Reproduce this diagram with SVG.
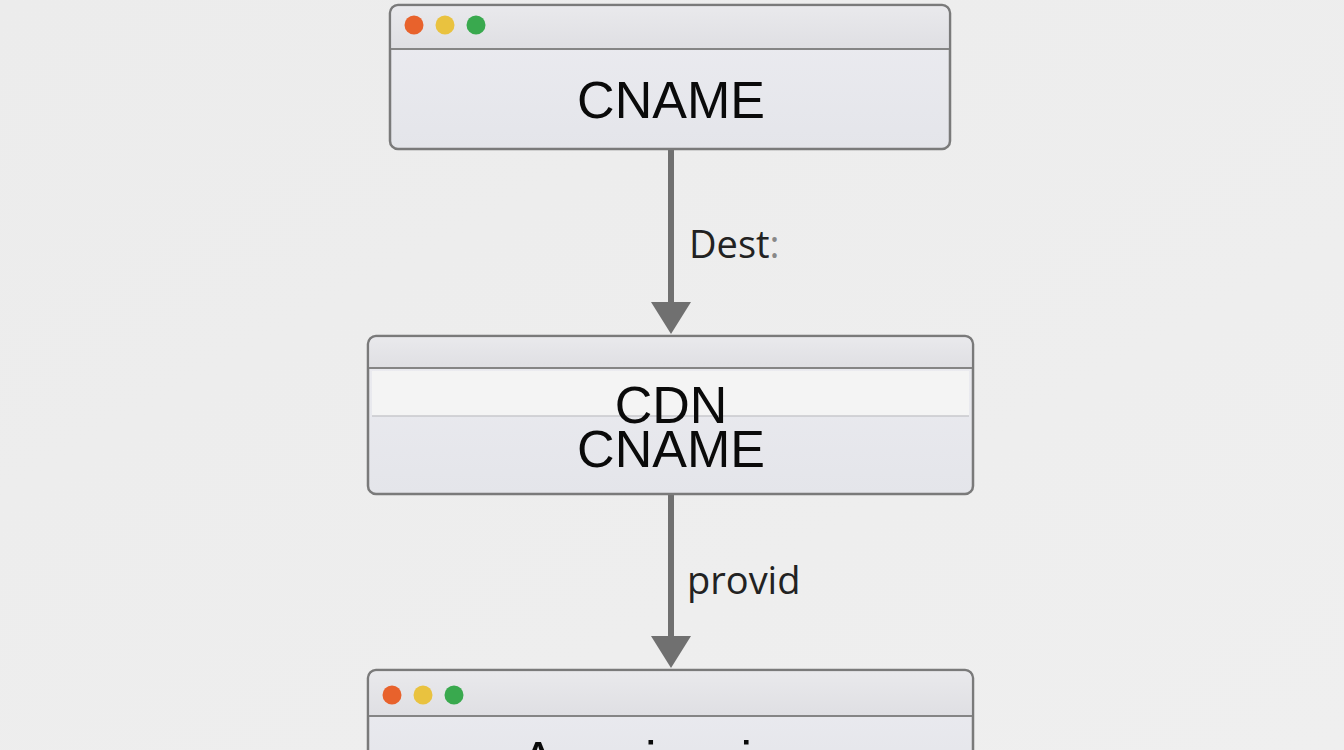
<svg xmlns="http://www.w3.org/2000/svg" width="1344" height="750" viewBox="0 0 1344 750">
<defs>
<linearGradient id="bg" x1="0" y1="0" x2="1" y2="1">
<stop offset="0" stop-color="#ececec"/>
<stop offset="1" stop-color="#efefef"/>
</linearGradient>
<linearGradient id="bar" x1="0" y1="0" x2="0" y2="1">
<stop offset="0" stop-color="#e9e9ec"/>
<stop offset="1" stop-color="#dfdfe3"/>
</linearGradient>
<linearGradient id="body" x1="0" y1="0" x2="0" y2="1">
<stop offset="0" stop-color="#ececf1"/>
<stop offset="1" stop-color="#e4e5ea"/>
</linearGradient>
<style>
.win{fill:url(#body);stroke:#7a7a7a;stroke-width:2.5}
.bar{fill:url(#bar)}
.sep{stroke:#858585;stroke-width:2}
.lbl{font-family:"Liberation Sans",Arial,sans-serif;font-size:52px;fill:#0a0a0a;text-anchor:middle}
.elab{font-family:"Open Sans","Liberation Sans",sans-serif;font-size:38px;fill:#222}
.conn{stroke:#707070;stroke-width:6;fill:none}
.head{fill:#707070}
</style>
</defs>
<rect width="1344" height="750" fill="url(#bg)"/>

<g id="connectors">
<line class="conn" x1="671" y1="150" x2="671" y2="308"/>
<path class="head" d="M651,302 L691,302 L671,334 Z"/>
<line class="conn" x1="671" y1="495" x2="671" y2="642"/>
<path class="head" d="M651,636 L691,636 L671,668 Z"/>
<text class="elab" x="689" y="258">Dest<tspan fill="#888">:</tspan></text>
<text class="elab" x="687" y="594">provid</text>
</g>

<g id="node-cname">
<rect class="win" x="390" y="5" width="560" height="144" rx="8"/>
<path class="bar" d="M391.5,13 a6.5,6.5 0 0 1 6.5,-6.5 h544 a6.5,6.5 0 0 1 6.5,6.5 v36 h-557 Z"/>
<line class="sep" x1="391" y1="49" x2="949" y2="49"/>
<circle cx="414" cy="25" r="9.5" fill="#e8622c"/>
<circle cx="445" cy="25" r="9.5" fill="#e9c23f"/>
<circle cx="476" cy="25" r="9.5" fill="#39a94e"/>
<text class="lbl" x="671" y="118">CNAME</text>
</g>

<g id="node-cdn">
<rect class="win" x="368" y="336" width="605" height="158" rx="8"/>
<path class="bar" d="M369.5,344 a6.5,6.5 0 0 1 6.5,-6.5 h589 a6.5,6.5 0 0 1 6.5,6.5 v24 h-602 Z"/>
<line class="sep" x1="369" y1="368" x2="972" y2="368"/>
<rect x="372" y="371" width="597" height="45" fill="#f4f4f4"/>
<line x1="372" y1="416" x2="969" y2="416" stroke="#c8c8cc" stroke-width="1.5"/>
<text class="lbl" x="671" y="423">CDN</text>
<text class="lbl" x="671" y="467">CNAME</text>
</g>

<g id="node-app">
<rect class="win" x="368" y="670" width="605" height="110" rx="8"/>
<path class="bar" d="M369.5,678 a6.5,6.5 0 0 1 6.5,-6.5 h589 a6.5,6.5 0 0 1 6.5,6.5 v38 h-602 Z"/>
<line class="sep" x1="369" y1="716" x2="972" y2="716"/>
<circle cx="392" cy="695" r="9.5" fill="#e8622c"/>
<circle cx="423" cy="695" r="9.5" fill="#e9c23f"/>
<circle cx="454" cy="695" r="9.5" fill="#39a94e"/>
<text class="lbl" x="671" y="778">Americanism</text>
</g>
</svg>
